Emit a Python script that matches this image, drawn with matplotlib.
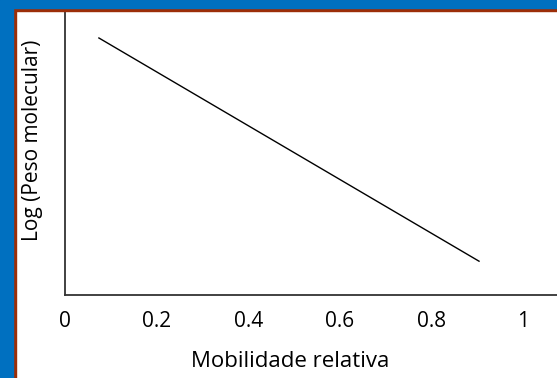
import matplotlib
matplotlib.use("Agg")
import matplotlib.pyplot as plt
from matplotlib.patches import Rectangle

# data
mobilidade = [0.074, 0.904]
log_peso = [0.905, 0.119]
xticks = [0, 0.2, 0.4, 0.6, 0.8, 1]
xticklabels = ["0", "0.2", "0.4", "0.6", "0.8", "1"]

W, H = 557, 378
plt.rcParams['font.family'] = ['Open Sans', 'DejaVu Sans']
fig = plt.figure(figsize=(W / 100, H / 100), dpi=100)

# blue frame with brown inner line (left and top only)
fig.patches.append(Rectangle((0, 0), 16 / W, 1, transform=fig.transFigure,
                             color='#9c2e08', zorder=0))
fig.patches.append(Rectangle((0, 1 - 11 / H), 1, 11 / H, transform=fig.transFigure,
                             color='#9c2e08', zorder=0))
fig.patches.append(Rectangle((0, 0), 13 / W, 1, transform=fig.transFigure,
                             color='#0070c0', zorder=1))
fig.patches.append(Rectangle((0, 1 - 8 / H), 1, 8 / H, transform=fig.transFigure,
                             color='#0070c0', zorder=1))

ax = fig.add_axes([65 / W, (H - 295) / H, (W - 65) / W, (295 - 11) / H])
ax.patch.set_alpha(0)
ax.plot(mobilidade, log_peso, color='black', lw=1)

ax.set_xlim(0, (W - 65) / 458)
ax.set_ylim(0, 1)
ax.spines['top'].set_visible(False)
ax.spines['right'].set_visible(False)
for s in ['left', 'bottom']:
    ax.spines[s].set_color('#333333')
    ax.spines[s].set_linewidth(1.3)

ax.set_xticks(xticks)
ax.set_xticklabels(xticklabels, fontsize=15)
ax.set_yticks([])
ax.tick_params(axis='x', length=0, pad=11.5)
ax.set_xlabel("Mobilidade relativa", fontsize=16)
ax.set_ylabel("Log (Peso molecular)", fontsize=15)
ax.xaxis.set_label_coords(0.457, -0.198)
ax.yaxis.set_label_coords(-0.045, 0.546)

fig.savefig("out.png", dpi=100)
